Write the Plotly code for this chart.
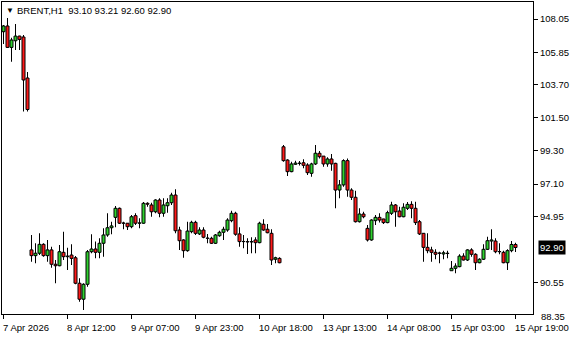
import plotly.graph_objects as go

# ---- data (hourly bars, index 0 = 7 Apr 2026 17:00) ----
opens = [107.21, 107.59, 106.17, 106.61, 106.92, 106.86, 104.14, 92.74, 92.36, 92.52,
         93.11, 92.36, 92.74, 91.79, 91.69, 92.58, 92.29, 92.40, 92.22, 90.53,
         89.47, 90.46, 92.62, 92.80, 92.58, 93.18, 93.73, 94.21, 94.90, 95.50,
         94.51, 94.51, 94.28, 95.01, 94.51, 94.51, 95.83, 95.72, 95.27, 96.05,
         95.17, 95.67, 95.87, 96.38, 94.06, 93.40, 92.69, 93.95, 94.57, 93.80,
         94.06, 93.51, 93.51, 93.18, 93.68, 93.91, 94.06, 94.68, 95.17, 93.80,
         93.29, 93.29, 93.27, 93.40, 93.22, 94.44, 94.11, 93.84, 92.12, 92.18,
         99.58, 98.70, 97.93, 98.42, 98.48, 98.52, 98.37, 97.82, 98.44, 99.15,
         98.96, 98.44, 98.77, 98.48, 96.71, 97.05, 98.66, 96.71, 96.23, 94.61,
         95.12, 94.17, 93.40, 94.68, 94.90, 94.79, 94.55, 95.17, 95.72, 95.32,
         94.94, 95.50, 95.76, 95.50, 94.61, 93.84, 92.91, 92.74, 92.58, 92.52,
         92.47, 92.52, 91.36, 91.52, 91.63, 92.33, 92.07, 92.74, 92.45, 91.89,
         92.12, 92.78, 93.33, 93.33, 92.62, 92.58, 91.89, 92.69, 93.10]
highs = [107.65, 108.12, 106.81, 107.72, 106.95, 106.99, 104.54, 93.73, 93.18, 93.84,
         93.18, 93.40, 92.95, 92.07, 93.07, 93.95, 92.89, 93.11, 92.34, 90.86,
         90.53, 92.74, 93.78, 93.29, 93.51, 94.17, 95.17, 94.61, 95.65, 95.55,
         94.61, 94.53, 95.05, 95.17, 94.84, 95.92, 95.90, 95.87, 96.10, 96.16,
         96.16, 96.16, 96.53, 96.76, 94.28, 93.44, 94.61, 94.68, 94.68, 94.24,
         94.24, 93.80, 93.62, 93.80, 94.01, 94.28, 94.84, 95.34, 95.27, 94.24,
         93.73, 93.51, 93.58, 93.58, 94.61, 94.77, 94.46, 94.11, 92.29, 92.25,
         99.70, 98.75, 98.59, 98.66, 98.63, 98.75, 98.48, 98.52, 99.70, 99.30,
         98.97, 98.88, 99.10, 98.52, 97.38, 98.75, 98.81, 96.83, 96.67, 95.50,
         95.27, 94.39, 94.77, 95.05, 95.17, 94.81, 95.34, 95.94, 95.78, 95.61,
         95.83, 95.92, 95.97, 95.94, 94.72, 93.86, 93.84, 92.95, 92.78, 92.62,
         92.69, 92.69, 92.01, 91.85, 92.45, 92.52, 92.78, 92.85, 92.52, 92.18,
         93.11, 93.62, 94.11, 93.51, 93.18, 92.69, 92.78, 93.33, 93.21]
lows = [106.39, 106.13, 105.22, 105.99, 105.99, 101.92, 101.92, 91.96, 91.85, 92.40,
        92.29, 91.96, 91.56, 90.53, 91.66, 92.07, 91.41, 91.74, 90.46, 89.31,
        88.76, 90.30, 92.52, 92.18, 92.18, 92.29, 93.62, 93.78, 94.24, 94.45,
        94.11, 94.06, 94.18, 94.39, 94.17, 94.47, 95.61, 94.94, 95.17, 94.90,
        94.94, 95.21, 95.72, 93.84, 92.74, 92.22, 92.62, 93.84, 93.73, 93.73,
        93.51, 93.18, 93.13, 93.13, 93.62, 93.40, 93.95, 94.57, 93.68, 92.95,
        92.85, 92.47, 92.52, 92.52, 93.18, 94.01, 93.84, 91.74, 91.85, 91.85,
        98.59, 97.64, 97.89, 98.37, 98.34, 98.15, 97.71, 97.59, 98.37, 98.81,
        98.26, 98.26, 97.99, 95.50, 96.16, 96.93, 96.27, 96.05, 94.55, 94.55,
        94.84, 93.29, 93.35, 94.39, 94.55, 94.46, 94.51, 95.05, 94.28, 94.90,
        94.90, 95.39, 94.84, 94.39, 93.73, 91.96, 92.52, 91.96, 92.12, 91.85,
        92.12, 92.18, 91.35, 91.19, 91.59, 92.03, 92.01, 92.29, 91.41, 91.85,
        92.07, 92.74, 92.74, 92.52, 92.45, 91.85, 91.41, 92.58, 92.60]
closes = [107.59, 106.17, 106.66, 106.92, 106.70, 104.01, 102.05, 92.36, 92.52, 93.11,
          92.36, 92.74, 91.79, 91.69, 92.62, 92.29, 92.33, 92.18, 90.53, 89.47,
          90.46, 92.62, 92.80, 92.58, 93.18, 93.73, 94.21, 94.33, 95.50, 94.51,
          94.51, 94.28, 94.94, 94.51, 94.53, 95.83, 95.77, 95.27, 96.05, 95.17,
          95.72, 95.87, 96.38, 94.01, 93.35, 92.69, 93.99, 94.57, 93.84, 94.06,
          93.58, 93.51, 93.18, 93.73, 93.91, 94.11, 94.72, 95.17, 93.78, 93.29,
          93.29, 93.27, 93.29, 93.22, 94.51, 94.06, 93.88, 92.07, 92.22, 91.89,
          98.66, 97.93, 98.44, 98.50, 98.48, 98.35, 97.86, 98.44, 99.15, 98.92,
          98.44, 98.77, 98.44, 96.71, 97.05, 98.66, 96.71, 96.23, 94.61, 95.12,
          94.94, 93.40, 94.72, 94.90, 94.72, 94.55, 95.21, 95.72, 95.27, 94.94,
          95.57, 95.76, 95.50, 94.55, 93.80, 92.91, 92.69, 92.58, 92.45, 92.52,
          92.55, 92.50, 91.52, 91.67, 92.33, 92.07, 92.74, 92.45, 91.89, 92.12,
          92.78, 93.35, 93.40, 92.62, 92.62, 91.89, 92.69, 93.10, 92.90]

time_tick_idx = [0, 16, 32, 48, 64, 80, 96, 112, 128]
time_tick_text = ["7 Apr 2026", "8 Apr 12:00", "9 Apr 07:00", "9 Apr 23:00", "10 Apr 18:00",
                  "13 Apr 13:00", "14 Apr 08:00", "15 Apr 03:00", "15 Apr 19:00"]
price_ticks = [108.05, 105.85, 103.70, 101.50, 99.30, 97.10, 94.95, 90.55]
bottom_price_tick = 88.35
last_price = 92.90
title_text = "BRENT,H1  93.10 93.21 92.60 92.90"

FONT = "Liberation Sans, Arial, sans-serif"
UP, DOWN = "#2fd22f", "#ff1a1a"
x_idx = list(range(len(opens)))

# wicks: thin bars from low to high
wick = go.Bar(x=x_idx, base=lows, y=[h - l for h, l in zip(highs, lows)],
              width=0.25, marker=dict(color="black", line=dict(width=0)),
              hoverinfo="skip", showlegend=False)
# bodies: open -> close (doji drawn as a hairline body)
body_len = [(c - o) if abs(c - o) > 0.005 else 0.012 for o, c in zip(opens, closes)]
body = go.Bar(x=x_idx, base=opens, y=body_len, width=0.75,
              marker=dict(color=[UP if c > o else DOWN for o, c in zip(opens, closes)],
                          line=dict(color="black", width=1)),
              hoverinfo="skip", showlegend=False)

fig = go.Figure([wick, body])

annotations = []
for i, t in zip(time_tick_idx, time_tick_text):
    annotations.append(dict(x=i, y=0, xref="x", yref="paper", text=t, showarrow=False,
                            xanchor="left", yanchor="middle", xshift=-3, yshift=-13,
                            font=dict(family=FONT, size=9.5, color="black")))
annotations.append(dict(x=1, y=0, xref="paper", yref="paper",
                        text=f"{bottom_price_tick:.2f}", showarrow=False,
                        xanchor="left", yanchor="middle", xshift=6, yshift=-2,
                        font=dict(family=FONT, size=9.5, color="black")))
annotations.append(dict(x=1, y=last_price, xref="paper", yref="y",
                        text=f"{last_price:.2f}", showarrow=False, bgcolor="black",
                        xanchor="left", yanchor="middle", xshift=5, borderpad=1,
                        font=dict(family=FONT, size=9.5, color="white")))
annotations.append(dict(x=0, y=1, xref="paper", yref="paper", text="\u25bc", showarrow=False,
                        xanchor="left", yanchor="middle", xshift=2, yshift=-8,
                        font=dict(family=FONT, size=8, color="black")))
annotations.append(dict(x=0, y=1, xref="paper", yref="paper", text=title_text, showarrow=False,
                        xanchor="left", yanchor="middle", xshift=13, yshift=-8,
                        font=dict(family=FONT, size=9.5, color="black")))

fig.update_layout(
    width=580, height=340, autosize=False,
    margin=dict(l=2, r=47, t=2, b=26),
    paper_bgcolor="white", plot_bgcolor="white",
    font=dict(family=FONT, size=9.5, color="black"),
    barmode="overlay",
    annotations=annotations,
    xaxis=dict(range=[-0.375, 132.375],
               showgrid=False, zeroline=False, showline=True, mirror=True,
               linecolor="black", linewidth=1, ticks="outside", ticklen=4,
               tickcolor="black", tickvals=time_tick_idx, showticklabels=False),
    yaxis=dict(range=[88.49, 109.18], side="right", showgrid=False, zeroline=False,
               showline=True, mirror=True, linecolor="black", linewidth=1,
               ticks="outside", ticklen=4, tickcolor="black",
               tickvals=price_ticks, ticktext=[f"{v:.2f}" for v in price_ticks],
               tickfont=dict(family=FONT, size=9.5, color="black")),
)

fig.write_html("out.html")
